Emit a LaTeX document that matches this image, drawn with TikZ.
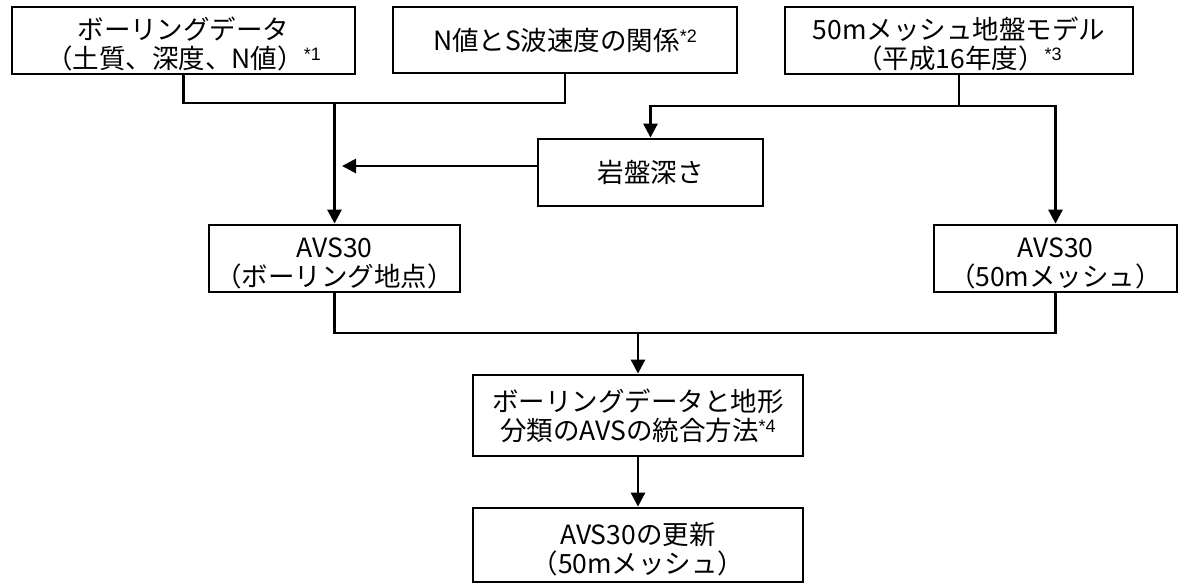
\documentclass[tikz,border=0pt]{standalone}
\usepackage{fontspec}
\setmainfont{Noto Sans CJK JP}
\newfontfamily\notefont{Liberation Sans}
\usetikzlibrary{arrows.meta}
\newcommand{\noteref}[1]{\raisebox{8pt}{\notefont\fontsize{18}{18}\selectfont *#1}}
\newcommand{\dn}{\rule{0pt}{30pt}}
\begin{document}
\begin{tikzpicture}[x=1pt,y=-1pt,
  box/.style={draw, line width=2.8pt, inner sep=0pt, align=center,
              font=\fontsize{26.5}{29}\selectfont},
  conn/.style={line width=2.8pt},
  arr/.style={line width=2.8pt, -{Triangle[length=14pt,width=14pt]}}]
\useasboundingbox (0,0) rectangle (1179,584);
\fill[white] (0,0) rectangle (1179,584);
% top row
\node[box, minimum width=343pt, minimum height=67pt] (b1) at (183.5,40.5)
  {\dn ボーリングデータ\\（土質、深度、N値）\noteref{1}};
\node[box, minimum width=344pt, minimum height=66pt] (b2) at (565,40)
  {N値とS波速度の関係\noteref{2}};
\node[box, minimum width=348pt, minimum height=67pt] (b3) at (959,40.5)
  {\dn 50mメッシュ地盤モデル\\（平成16年度）\noteref{3}};
% middle
\node[box, minimum width=225pt, minimum height=67pt] (rock) at (650.5,172.5) {岩盤深さ};
\node[box, minimum width=251pt, minimum height=67pt] (a1) at (334.5,258.5)
  {\dn AVS30\\（ボーリング地点）};
\node[box, minimum width=243pt, minimum height=67pt] (a2) at (1055.5,258.5)
  {\dn AVS30\\（50mメッシュ）};
% bottom
\node[box, minimum width=330pt, minimum height=81pt] (m) at (638,415.5)
  {ボーリングデータと地形\\分類のAVSの統合方法\noteref{4}};
\node[box, minimum width=330pt, minimum height=74pt] (u) at (638,545)
  {\dn AVS30の更新\\（50mメッシュ）};
% connectors
\coordinate (j1) at (334.5,103);
\draw[conn] (b1.south) -- (b1.south |- j1) -| (b2.south);
\draw[arr] (j1) -- (a1.north);
\coordinate (j2) at (959,106);
\draw[conn] (b3.south) -- (j2);
\draw[arr] (j2) -| (rock.north);
\draw[arr] (j2) -| (a2.north);
\coordinate (t) at (342,166);
\draw[arr] (rock.west |- t) -- (t);
\coordinate (j3) at (638,333);
\draw[conn] (a1.south) |- (j3) -| (a2.south);
\draw[arr] (j3) -- (m.north);
\draw[arr] (m.south) -- (u.north);
\end{tikzpicture}
\end{document}
